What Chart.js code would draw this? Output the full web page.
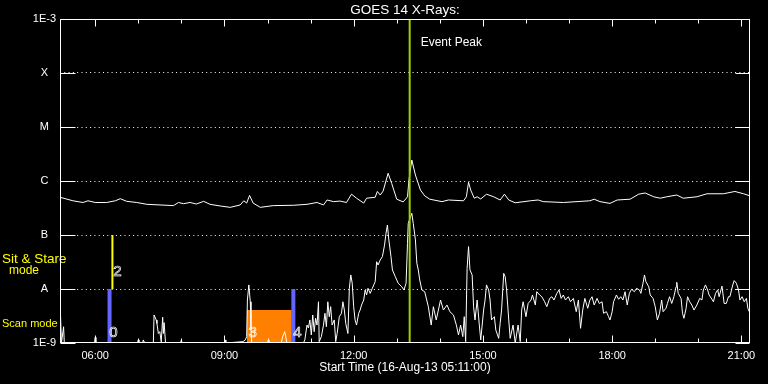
<!DOCTYPE html>
<html>
<head>
<meta charset="utf-8">
<title>GOES 14 X-Rays</title>
<script src="https://cdn.jsdelivr.net/npm/chart.js"></script>
<style>
  body { margin: 0; background: #000; }
  canvas { display: block; }
</style>
</head>
<body>
<canvas id="goesChart" width="768" height="384"></canvas>
<script>
// axis levels and labels
const yLevels = [1e-9, 1e-8, 1e-7, 1e-6, 1e-5, 1e-4, 1e-3];
const yLabels = ['1E-9', 'A', 'B', 'C', 'M', 'X', '1E-3'];
const tickHours = [6, 7, 8, 9, 10, 11, 12, 13, 14, 15, 16, 17, 18, 19, 20, 21];
const labelHours = [6, 9, 12, 15, 18, 21];
const startTime = '05:11';
const endTime = '21:12';

// upper curve (1-8 A)
const longTimes = [
  '05:11','05:29','05:43','05:50','06:00','06:16','06:28','06:35','06:44','06:58',
  '07:12','07:49','07:56','08:03','08:12','08:21','08:31','08:40','08:54','09:08',
  '09:22','09:27','09:31','09:35','09:40','09:50','10:08','10:36','10:55','11:09',
  '11:18','11:23','11:32','11:41','11:50','11:57','12:04','12:14','12:18','12:30',
  '12:33','12:37','12:41','12:48','12:53','13:00','13:09','13:15','13:17','13:21',
  '13:26','13:33','13:39','13:46','14:03','14:12','14:33','14:37','14:40','14:43',
  '14:48','14:52','14:57','15:05','15:15','15:24','15:30','15:36','15:45','16:06',
  '16:17','16:24','16:52','17:29','17:35','17:43','17:57','18:07','18:25','18:37',
  '18:46','18:58','19:07','19:16','19:30','19:39','19:58','20:12','20:35','20:51',
  '21:03','21:12'
];
const longFlux = [
  5.0e-7,4.3e-7,4.0e-7,4.3e-7,4.0e-7,4.0e-7,4.3e-7,4.7e-7,4.2e-7,4.0e-7,
  3.7e-7,3.5e-7,4.0e-7,3.8e-7,4.0e-7,3.75e-7,4.2e-7,3.7e-7,3.45e-7,3.25e-7,
  3.6e-7,4.3e-7,3.9e-7,5.4e-7,3.9e-7,3.25e-7,3.5e-7,3.55e-7,3.7e-7,4.0e-7,
  3.6e-7,4.45e-7,4.15e-7,4.25e-7,4.0e-7,5.7e-7,4.8e-7,3.9e-7,4.8e-7,5.0e-7,
  6.4e-7,5.5e-7,6.5e-7,1.39e-6,9.0e-7,4.6e-7,4.1e-7,5.1e-7,1.04e-6,2.45e-6,
  1.29e-6,6.8e-7,5.3e-7,4.6e-7,4.15e-7,4.45e-7,4.3e-7,5.1e-7,9.5e-7,6.8e-7,
  4.8e-7,5.1e-7,4.65e-7,5.7e-7,5.1e-7,4.45e-7,5.7e-7,4.45e-7,3.95e-7,4.3e-7,
  4.45e-7,4.15e-7,4.0e-7,4.3e-7,4.6e-7,4.15e-7,3.85e-7,4.45e-7,4.6e-7,5.7e-7,
  6.0e-7,5.1e-7,4.8e-7,5.1e-7,5.5e-7,4.8e-7,5.1e-7,5.8e-7,5.8e-7,6.4e-7,
  5.8e-7,5.3e-7
];

// lower curve (0.5-4 A)
const shortTimes = [
  '05:11','05:13','05:16','05:17','05:59','06:00','06:01','06:59','07:00','07:01',
  '07:06','07:07','07:09','07:21','07:22','07:25','07:26','07:28','07:30','07:32',
  '07:34','07:35','07:36','07:38','07:59','08:00','08:01','09:00','09:01','09:02',
  '09:26','09:29','09:31','09:32','09:34','09:36','09:37','09:38','10:00','10:01',
  '10:02','10:19','10:21','10:24','10:27','10:50','10:52','10:55','10:57','10:59',
  '11:01','11:03','11:05','11:07','11:09','11:11','11:12','11:15','11:18','11:20',
  '11:22','11:24','11:26','11:28','11:30','11:33','11:35','11:37','11:40','11:43',
  '11:45','11:47','11:49','11:52','11:54','11:56','11:58','12:00','12:02','12:04',
  '12:07','12:09','12:11','12:14','12:16','12:18','12:20','12:23','12:26','12:30',
  '12:32','12:34','12:37','12:40','12:43','12:45','12:47','12:49','12:52','12:54',
  '12:58','13:02','13:07','13:10','13:13','13:15','13:16','13:21','13:23','13:26',
  '13:28','13:30','13:32','13:35','13:39','13:44','13:48','13:51','13:55','13:58',
  '14:01','14:05','14:10','14:14','14:19','14:23','14:26','14:29','14:32','14:34',
  '14:36','14:38','14:40','14:42','14:45','14:47','14:49','14:52','14:55','14:57',
  '15:01','15:03','15:05','15:08','15:10','15:12','15:16','15:18','15:22','15:24',
  '15:26','15:29','15:31','15:33','15:36','15:38','15:42','15:45','15:49','15:52',
  '15:54','15:56','16:00','16:03','16:07','16:09','16:13','16:15','16:19','16:22',
  '16:26','16:29','16:33','16:36','16:39','16:43','16:46','16:49','16:52','16:55',
  '16:59','17:02','17:06','17:10','17:13','17:16','17:19','17:22','17:26','17:29',
  '17:32','17:35','17:39','17:42','17:46','17:48','17:52','17:55','17:57','18:00',
  '18:02','18:06','18:09','18:12','18:15','18:18','18:21','18:24','18:27','18:31',
  '18:34','18:38','18:40','18:43','18:45','18:47','18:51','18:53','18:57','19:00',
  '19:03','19:06','19:09','19:11','19:15','19:17','19:20','19:23','19:26','19:29',
  '19:30','19:32','19:36','19:38','19:40','19:43','19:45','19:48','19:51','19:54',
  '19:58','20:02','20:05','20:07','20:10','20:13','20:15','20:19','20:21','20:24',
  '20:27','20:29','20:33','20:36','20:39','20:42','20:44','20:48','20:50','20:53',
  '20:56','20:58','21:01','21:04','21:07','21:09','21:11'
];
const shortFlux = [
  6.3e-9,1.0e-9,2.0e-9,1.0e-9,1.0e-9,1.27e-9,1.0e-9,1.0e-9,1.14e-9,1.0e-9,
  1.0e-9,1.14e-9,1.0e-9,1.0e-9,3.3e-9,2.67e-9,2.3e-9,1.5e-9,1.62e-9,1.05e-9,
  3.0e-9,1.5e-9,2.38e-9,1.0e-9,1.0e-9,1.14e-9,1.0e-9,1.0e-9,1.14e-9,1.0e-9,
  1.06e-9,1.14e-9,1.31e-9,6.25e-9,1.19e-8,5.8e-9,1.74e-9,1.0e-9,1.0e-9,1.14e-9,
  1.0e-9,1.0e-9,1.3e-9,1.62e-9,1.0e-9,1.0e-9,1.14e-9,2.15e-9,1.9e-9,2.67e-9,
  1.41e-9,3.3e-9,1.62e-9,2.87e-9,2.15e-9,5.8e-9,1.06e-9,1.31e-9,2.15e-9,3.55e-9,
  2.0e-9,5.8e-9,3.07e-9,4.7e-9,2.15e-9,2.67e-9,1.06e-9,1.5e-9,3.07e-9,3.55e-9,
  5.8e-9,4.08e-9,2.3e-9,1.5e-9,1.03e-8,1.82e-8,1.28e-8,4.7e-9,2.67e-9,2.15e-9,
  3.55e-9,4.08e-9,5.05e-9,6.25e-9,9.6e-9,7.75e-9,1.03e-8,8.3e-9,1.03e-8,1.37e-8,
  3.2e-8,2.78e-8,3.45e-8,3.96e-8,6.5e-8,1.07e-7,1.53e-7,8.1e-8,3.96e-8,2.25e-8,
  1.69e-8,1.28e-8,1.1e-8,9.6e-9,1.28e-8,7.0e-8,1.64e-7,2.52e-7,1.64e-7,8.1e-8,
  3.0e-8,2.25e-8,1.47e-8,9.6e-9,8.9e-9,4.7e-9,2.15e-9,4.7e-9,2.67e-9,4.08e-9,
  6.25e-9,4.08e-9,5.05e-9,3.8e-9,3.3e-9,2.15e-9,1.41e-9,2.15e-9,1.31e-9,3.07e-9,
  1.06e-9,2.4e-8,6.1e-8,2.25e-8,1.82e-8,4.7e-9,2.67e-9,6.25e-9,2.15e-9,1.14e-9,
  4.08e-9,6.25e-9,1.19e-8,9.6e-9,6.25e-9,2.67e-9,3.07e-9,1.74e-9,1.22e-9,2.3e-9,
  4.08e-9,1.95e-8,1.69e-8,9.6e-9,2.67e-9,1.22e-9,2.15e-9,1.0e-9,2.15e-9,1.06e-9,
  4.08e-9,5.8e-9,3.07e-9,5.4e-9,6.25e-9,7.75e-9,5.05e-9,8.9e-9,7.75e-9,7.2e-9,
  5.8e-9,4.7e-9,6.7e-9,7.2e-9,6.25e-9,8.3e-9,9.6e-9,6.7e-9,7.75e-9,6.25e-9,
  7.2e-9,5.8e-9,6.7e-9,3.8e-9,6.25e-9,1.87e-9,4.08e-9,6.7e-9,4.4e-9,6.25e-9,
  7.2e-9,5.05e-9,6.7e-9,5.4e-9,5.8e-9,3.55e-9,3.8e-9,3.07e-9,2.67e-9,3.8e-9,
  5.8e-9,7.75e-9,6.45e-9,7.2e-9,6.25e-9,8.9e-9,5.05e-9,8.3e-9,9.9e-9,8.9e-9,
  1.03e-8,9.6e-9,8.3e-9,1.28e-8,1.82e-8,1.37e-8,1.1e-8,7.75e-9,6.7e-9,4.7e-9,
  2.67e-9,3.55e-9,6.25e-9,3.8e-9,4.4e-9,5.4e-9,7.2e-9,5.4e-9,7.2e-9,1.1e-8,
  1.33e-8,8.3e-9,6.7e-9,3.55e-9,2.87e-9,4.4e-9,7.2e-9,5.8e-9,5.05e-9,4.08e-9,
  5.05e-9,6.7e-9,6.25e-9,9.6e-9,1.19e-8,9.6e-9,7.75e-9,6.45e-9,5.8e-9,8.3e-9,
  9.6e-9,7.2e-9,1.13e-8,5.4e-9,5.4e-9,7.2e-9,7.2e-9,1.19e-8,1.43e-8,1.28e-8,
  9.6e-9,6.25e-9,7.2e-9,5.8e-9,6.7e-9,4.4e-9,3.8e-9
];

// observation markers
const scanTimes = ['06:20', '10:36'];
const scanIds = ['0', '4'];
const stareTimes = ['06:24'];
const stareIds = ['2'];
const rasterTimes = ['09:31', '10:34'];
const rasterId = '3';
const rasterTop = 4.1e-9;
const peakTime = '13:18';

const FONT = '"Liberation Sans", Arial, sans-serif';

const toHours = s => {
  const [h, m] = s.split(':').map(Number);
  return h + m / 60;
};
const pts = (times, vals) => times.map((t, i) => ({ x: toHours(t), y: vals[i] }));
const vbar = (t, lo, hi) => [{ x: toHours(t), y: hi }, { x: toHours(t), y: lo }];

const plain = { pointRadius: 0, tension: 0, fill: false };

const datasets = [
  { ...plain, label: 'raster', data: pts(rasterTimes, [rasterTop, rasterTop]),
    borderWidth: 0, borderColor: '#ff8000', backgroundColor: '#ff8000', fill: 'start', order: 9 },
  { ...plain, label: '1-8 A', data: pts(longTimes, longFlux), borderColor: '#ffffff', borderWidth: 1, order: 5 },
  { ...plain, label: '0.5-4 A', data: pts(shortTimes, shortFlux), borderColor: '#ffffff', borderWidth: 1, order: 5 },
  { ...plain, label: 'Event Peak', data: vbar(peakTime, 1e-9, 1e-3), borderColor: '#a0d000', borderWidth: 2, order: 1 }
];
scanTimes.forEach(t => datasets.push({ ...plain, label: 'scan', data: vbar(t, 1e-9, 1e-8),
  borderColor: '#6464ff', borderWidth: 4, order: 3 }));
stareTimes.forEach(t => datasets.push({ ...plain, label: 'stare', data: vbar(t, 1e-8, 1e-7),
  borderColor: '#ffff00', borderWidth: 2, order: 3 }));

// title, text labels and the framed box with inward ticks
const decor = {
  id: 'decor',
  afterDatasetsDraw(chart) {
    const { ctx, chartArea: a, scales: { x, y } } = chart;
    ctx.save();
    ctx.textBaseline = 'middle';

    ctx.fillStyle = '#ffffff';
    ctx.font = '13.5px ' + FONT;
    ctx.textAlign = 'center';
    ctx.fillText('GOES 14 X-Rays:', (a.left + a.right) / 2, 10);

    ctx.font = '12px ' + FONT;
    ctx.textAlign = 'left';
    ctx.fillText('Event Peak', x.getPixelForValue(toHours(peakTime)) + 11, a.top + 24);

    ctx.strokeStyle = '#ffffff';
    ctx.lineWidth = 0.7;
    ctx.font = '15px ' + FONT;
    ctx.textAlign = 'center';
    scanTimes.forEach((t, i) => ctx.strokeText(scanIds[i], x.getPixelForValue(toHours(t)) + 4, a.bottom - 10));
    stareTimes.forEach((t, i) => ctx.strokeText(stareIds[i], x.getPixelForValue(toHours(t)) + 5, y.getPixelForValue(1e-8) - 17));
    ctx.strokeText(rasterId, x.getPixelForValue(toHours(rasterTimes[0])) + 6, a.bottom - 10);

    ctx.fillStyle = '#ffff00';
    const yA = y.getPixelForValue(1e-8), yB = y.getPixelForValue(1e-7);
    ctx.font = '13.5px ' + FONT;
    ctx.textAlign = 'left';
    ctx.fillText('Sit & Stare', 2, (yA + yB) / 2 - 3);
    ctx.font = '12px ' + FONT;
    ctx.textAlign = 'center';
    ctx.fillText('mode', 24, (yA + yB) / 2 + 9);
    ctx.font = '11px ' + FONT;
    ctx.textAlign = 'left';
    ctx.fillText('Scan mode', 2, (yA + a.bottom) / 2 + 8);
    ctx.restore();
  },
  afterDraw(chart) {
    const { ctx, chartArea: a, scales: { x, y } } = chart;
    ctx.save();
    ctx.strokeStyle = '#ffffff';
    ctx.lineWidth = 1;
    const L = Math.round(a.left) + 0.5, R = Math.round(a.right) - 0.5;
    const T = Math.round(a.top) + 0.5, B = Math.round(a.bottom) - 0.5;
    ctx.strokeRect(L, T, R - L, B - T);
    ctx.beginPath();
    yLevels.forEach(v => {
      const py = Math.round(y.getPixelForValue(v)) + 0.5;
      ctx.moveTo(L, py); ctx.lineTo(L + 15, py);
      ctx.moveTo(R - 14, py); ctx.lineTo(R, py);
    });
    tickHours.forEach(h => {
      const px = Math.round(x.getPixelForValue(h)) + 0.5;
      const len = labelHours.includes(h) ? 7 : 4;
      ctx.moveTo(px, B); ctx.lineTo(px, B - len);
      ctx.moveTo(px, T); ctx.lineTo(px, T + len);
    });
    ctx.stroke();
    ctx.restore();
  }
};

new Chart(document.getElementById('goesChart'), {
  type: 'line',
  data: { datasets },
  options: {
    responsive: false,
    animation: false,
    devicePixelRatio: 1,
    layout: { padding: { left: 0, right: 18, top: 19, bottom: 0 } },
    plugins: {
      legend: { display: false },
      tooltip: { enabled: false },
      title: { display: false }
    },
    scales: {
      x: {
        type: 'linear',
        min: toHours(startTime),
        max: toHours(endTime),
        afterBuildTicks: s => { s.ticks = tickHours.map(v => ({ value: v })); },
        afterFit: s => { s.height = 41; s.paddingLeft = 0; s.paddingRight = 0; },
        grid: { display: false, drawTicks: false },
        border: { display: false },
        ticks: {
          autoSkip: false,
          maxRotation: 0,
          padding: 6,
          color: '#ffffff',
          font: { family: FONT, size: 11 },
          callback: v => labelHours.includes(v) ? String(v).padStart(2, '0') + ':00' : ''
        },
        title: {
          display: true,
          text: 'Start Time (16-Aug-13 05:11:00)',
          color: '#ffffff',
          font: { family: FONT, size: 12 },
          padding: { top: 0, bottom: 9 }
        }
      },
      y: {
        type: 'logarithmic',
        min: 1e-9,
        max: 1e-3,
        afterBuildTicks: s => { s.ticks = yLevels.map(v => ({ value: v })); },
        afterFit: s => { s.width = 60; s.paddingTop = 0; s.paddingBottom = 0; },
        grid: {
          drawTicks: false,
          lineWidth: 1,
          color: c => (c.index > 0 && c.index < yLevels.length - 1) ? '#ffffff' : 'rgba(0,0,0,0)'
        },
        border: { display: false, dash: [1, 3.3] },
        ticks: {
          autoSkip: false,
          crossAlign: 'center',
          padding: 4,
          color: '#ffffff',
          font: { family: FONT, size: 11 },
          callback: (v, i) => yLabels[i]
        }
      }
    }
  },
  plugins: [decor]
});
</script>
</body>
</html>
